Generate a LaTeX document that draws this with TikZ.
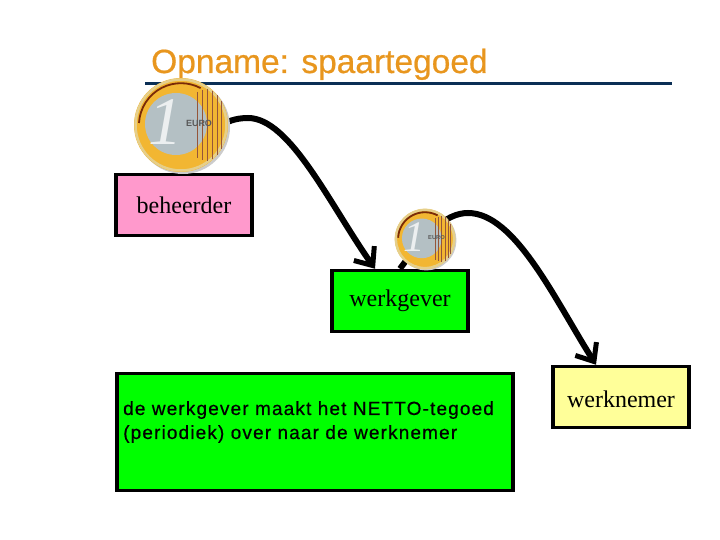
\documentclass[tikz,border=0pt]{standalone}
\usepackage{fontspec}
\setmainfont{Liberation Serif}
\newfontfamily\titlefont[FakeBold=0.6]{Liberation Sans}
\newfontfamily\notefont[LetterSpace=6,FakeBold=0.6]{Liberation Sans}
\newfontfamily\arialfont{Liberation Sans}
\usetikzlibrary{arrows.meta}
\definecolor{titleorange}{HTML}{E8961E}
\definecolor{ruleblue}{HTML}{0B2F55}
\definecolor{boxpink}{HTML}{FF99CC}
\definecolor{boxgreen}{HTML}{00FF00}
\definecolor{boxyellow}{HTML}{FFFF99}
\definecolor{coingold}{HTML}{F2B632}
\definecolor{coinedge}{HTML}{E6CF8A}
\definecolor{coinsilver}{HTML}{B4C0C4}
\definecolor{coinbrown}{HTML}{7A2A08}
\tikzset{
	partybox/.style={draw=black,line width=3.5pt,inner sep=0pt,minimum width=136pt,minimum height=61pt,font=\fontsize{24}{26}\selectfont},
	flow/.style={line width=6pt,-{Straight Barb[length=15pt,width=25pt,line width=5pt]}},
	pics/eurocoin/.style={code={
		\fill[black!20] (2,2) circle (47);
		\fill[coingold] (0,0) circle (47);
		\draw[coinedge,line width=2.5pt] (0,0) circle (45.5);
		\draw[coinbrown,line width=1.8pt] (-42,-2) arc (183:298:42);
		\fill[coinsilver] (-5,-1) circle (31);
		\foreach \x/\h in {16/33,21/35,26/36,31/34,36/30,40/24} {
			\draw[coinbrown!80,line width=.6pt] (\x,-\h) -- (\x,\h);
		}
		\node[transform shape,text=white!75!coinsilver,font=\fontsize{68}{68}\selectfont\itshape] (coinone) at (-16,-3) {1};
		\node[transform shape,text=black!65,font=\arialfont\bfseries\fontsize{9}{9}\selectfont] (coineuro) at (18,-2) {EURO};
	}}
}
\begin{document}
\begin{tikzpicture}[x=1pt,y=-1pt]
	\useasboundingbox (0,0) rectangle (720,540);
	\node[anchor=base west,text=titleorange,font=\titlefont\fontsize{33.5}{36}\selectfont,inner sep=0pt] (title) at (151,73) {Opname: spaartegoed};
	\coordinate (rulestart) at (145,84);
	\coordinate (ruleend) at (672,84);
	\draw[ruleblue,line width=3pt] (rulestart) -- (ruleend);
	\node[partybox,fill=boxpink] (beheerder) at (184,205) {beheerder};
	\node[partybox,fill=boxgreen] (werkgever) at (400,301) {werkgever};
	\node[partybox,fill=boxyellow] (werknemer) at (621,397) {};
	\node[font=\fontsize{24}{26}\selectfont,inner sep=0pt] (werknemertext) at (621,399) {werknemer};
	\node[draw=black,line width=3.5pt,fill=boxgreen,inner sep=0pt,minimum width=396pt,minimum height=117pt] (note) at (315,432) {};
	\node[anchor=north west,inner sep=0pt,align=left,font=\notefont\fontsize{19}{24}\selectfont] (notetext) at (123,401) {de werkgever maakt het NETTO-tegoed\\(periodiek) over naar de werknemer};
	% arrows start behind the coins
	\draw[flow] (beheerder.north) .. controls (205,130) and (225,118) .. (248,118) .. controls (290,118) and (330,205) .. ([xshift=-25pt]werkgever.north);
	\draw[flow] (werkgever.north) .. controls (425,235) and (445,213) .. (468,213) .. controls (515,213) and (555,300) .. ([xshift=-25pt]werknemer.north);
	\pic at (181,125) {eurocoin};
	\pic[scale=.64] at (425,239) {eurocoin};
\end{tikzpicture}
\end{document}
